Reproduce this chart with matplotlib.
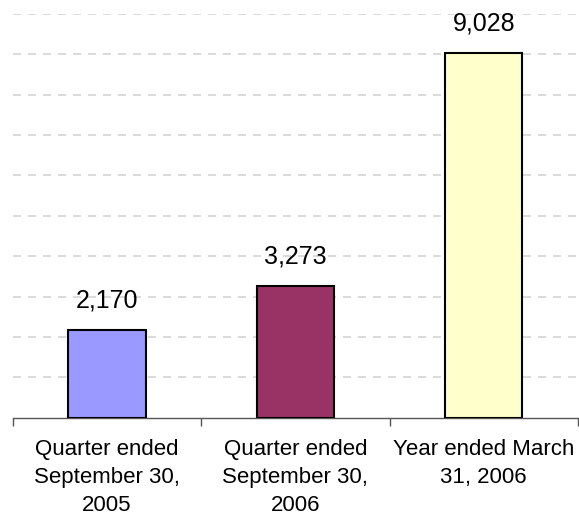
import matplotlib.pyplot as plt

plt.rcParams['font.family'] = ['Liberation Sans', 'DejaVu Sans']

categories = ['Quarter ended\nSeptember 30,\n2005',
              'Quarter ended\nSeptember 30,\n2006',
              'Year ended March\n31, 2006']
values = [2170, 3273, 9028]
colors = ['#9999ff', '#993366', '#ffffcc']

fig = plt.figure(figsize=(5.79, 5.16), dpi=100)
ax = fig.add_axes([12.7 / 579, 1 - 417.7 / 516, (578 - 12.7) / 579, (417.7 - 14) / 516])

x = range(len(values))
bars = ax.bar(x, values, width=0.41, color=colors, edgecolor='black', linewidth=1.5, zorder=3)
for b, v in zip(bars, values):
    ax.text(b.get_x() + b.get_width() / 2, v + 430, f'{v:,}', ha='center', va='bottom',
            fontsize=18, color='black')

ax.set_xlim(-0.5, 2.5)
ax.set_ylim(0, 10000)
ax.set_yticks(range(1000, 10001, 1000))
ax.yaxis.grid(True, color='#d4d4d4', linestyle=(0, (4.8, 4.2)), linewidth=1.2, zorder=0)
ax.tick_params(axis='y', left=False, labelleft=False)

ax.set_xticks([-0.5, 0.5, 1.5, 2.5], minor=False)
ax.set_xticklabels([])
ax.tick_params(axis='x', length=6, width=1, color='#555555')
ax.set_xticks(list(x), minor=True)
ax.set_xticklabels(categories, minor=True, fontsize=16, linespacing=1.45)
ax.tick_params(axis='x', which='minor', length=0, pad=15)

for s in ['top', 'right', 'left']:
    ax.spines[s].set_visible(False)
ax.spines['bottom'].set_color('#555555')
ax.spines['bottom'].set_linewidth(1)

fig.savefig('out.png', dpi=100)
